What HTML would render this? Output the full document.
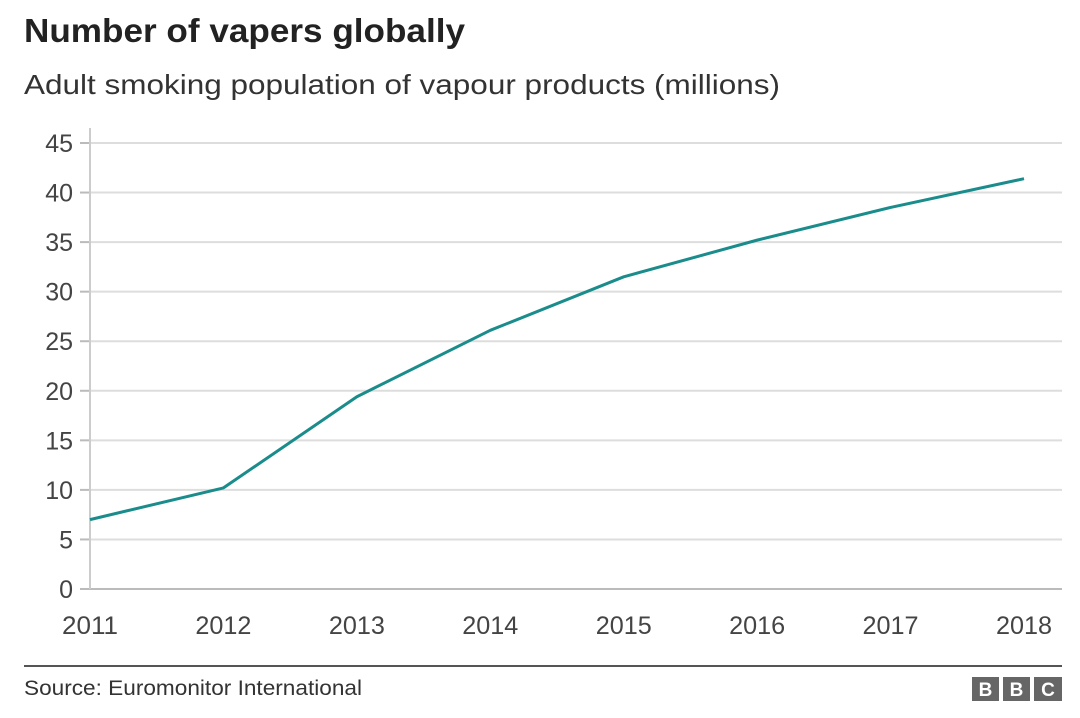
<!DOCTYPE html>
<html><head><meta charset="utf-8"><style>
body{margin:0;background:#fff;width:1080px;height:718px;overflow:hidden;font-family:"Liberation Sans",Arial,sans-serif}
</style></head><body>
<svg width="1080" height="718" style="display:block">
<text x="24" y="42" font-size="33" font-weight="bold" fill="#222" textLength="441" lengthAdjust="spacingAndGlyphs">Number of vapers globally</text>
<text x="24" y="94" font-size="28" fill="#333" textLength="756" lengthAdjust="spacingAndGlyphs">Adult smoking population of vapour products (millions)</text>
<g id="grid"></g>
<g id="yt"></g>
<g id="xt"></g>
<g id="series"></g>
<line x1="24" y1="666" x2="1062" y2="666" stroke="#555" stroke-width="2"/>
<text x="24" y="695" font-size="21" fill="#333" textLength="338" lengthAdjust="spacingAndGlyphs">Source: Euromonitor International</text>
<g font-size="19" font-weight="bold" fill="#fff" text-anchor="middle">
<rect x="972" y="677" width="27" height="24" fill="#666"/><rect x="1003" y="677" width="27" height="24" fill="#666"/><rect x="1034" y="677" width="28" height="24" fill="#666"/>
<text x="985.5" y="696">B</text><text x="1016.5" y="696">B</text><text x="1048" y="696">C</text>
</g>
</svg>
<script>
const years=["2011","2012","2013","2014","2015","2016","2017","2018"];
const vapers=[7.0,10.2,19.4,26.1,31.5,35.2,38.5,41.4];
const yTicks=[0,5,10,15,20,25,30,35,40,45];
const NS="http://www.w3.org/2000/svg";
const x0=90,x1=1024,y0=589,yTop=143;
const X=i=>x0+(x1-x0)*i/(years.length-1);
const Y=v=>y0-(y0-yTop)*v/45;
function mk(tag,attrs,parent,text){const e=document.createElementNS(NS,tag);for(const k in attrs)e.setAttribute(k,attrs[k]);if(text!==undefined)e.textContent=text;parent.appendChild(e);return e;}
const grid=document.getElementById('grid'),yt=document.getElementById('yt'),xt=document.getElementById('xt'),ser=document.getElementById('series');
yTicks.forEach(t=>{
 const l=mk('line',{x1:x0,x2:1062,y1:Y(t),y2:Y(t),stroke:t===0?'#bbb':'#ddd','stroke-width':2},grid);
 
 
 const tk=mk('line',{x1:80,x2:x0,y1:Y(t),y2:Y(t),stroke:'#bbb','stroke-width':2},yt);
 
 
 const tx=mk('text',{x:73,y:Y(t)+9,'font-size':25,fill:'#444','text-anchor':'end'},yt,String(t));
 
 
});
const ax=mk('line',{x1:x0,x2:x0,y1:128,y2:y0,stroke:'#ccc','stroke-width':2},yt);


years.forEach((yr,i)=>{
 const tx=mk('text',{x:X(i),y:634,'font-size':25,fill:'#444','text-anchor':'middle',textLength:56,lengthAdjust:'spacingAndGlyphs'},xt,yr);
 
 
});
const p=mk('polyline',{points:vapers.map((v,i)=>X(i)+','+Y(v)).join(' '),fill:'none',stroke:'#1b8c8c','stroke-width':3,'stroke-linejoin':'round'},ser);


</script>
</body></html>
